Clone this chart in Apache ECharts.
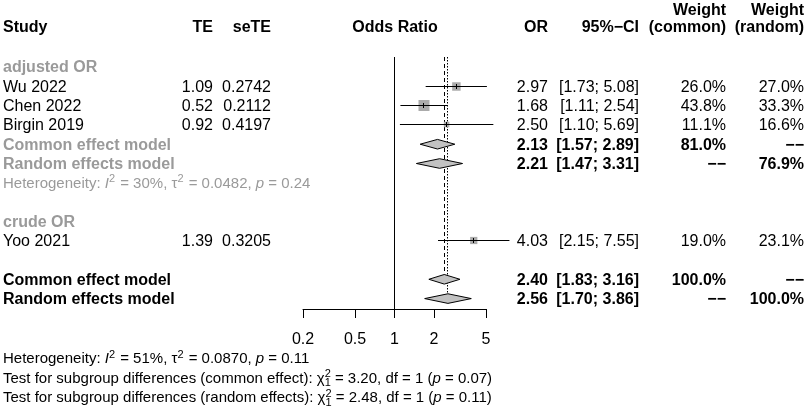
<!DOCTYPE html>
<html><head><meta charset="utf-8">
<script src="https://cdn.jsdelivr.net/npm/echarts@6/dist/echarts.min.js"></script>
<style>html,body{margin:0;padding:0;background:#fff}#c{width:810px;height:410px}</style>
</head><body><div id="c"></div>
<script>
// ---------- data ----------
const groupLabels = ['adjusted OR', 'crude OR'];
const groupRows = [0, 8];

const studies = ['Wu 2022', 'Chen 2022', 'Birgin 2019', 'Yoo 2021'];
const studyRows = [1, 2, 3, 9];
const teText = ['1.09', '0.52', '0.92', '1.39'];
const seTEText = ['0.2742', '0.2112', '0.4197', '0.3205'];
const orVals = [2.97, 1.68, 2.50, 4.03];
const ciLower = [1.73, 1.11, 1.10, 2.15];
const ciUpper = [5.08, 2.54, 5.69, 7.55];
const weightCommon = [26.0, 43.8, 11.1, 19.0];
const weightRandom = [27.0, 33.3, 16.6, 23.1];

const pooledLabels = ['Common effect model', 'Random effects model', 'Common effect model', 'Random effects model'];
const pooledRows = [4, 5, 11, 12];
const pooledOR = [2.13, 2.21, 2.40, 2.56];
const pooledLower = [1.57, 1.47, 1.83, 1.70];
const pooledUpper = [2.89, 3.31, 3.16, 3.86];
const pooledWCommon = ['81.0%', '\u2212\u2212', '100.0%', '\u2212\u2212'];
const pooledWRandom = ['\u2212\u2212', '76.9%', '\u2212\u2212', '100.0%'];
const pooledInGroup = [true, true, false, false];

const tickValues = [0.2, 0.5, 1, 2, 5];
const tickLabels = ['0.2', '0.5', '1', '2', '5'];

const hetGroup = { row: 6, i2: '30%', tau2: '0.0482', p: '0.24' };
const hetOverall = { i2: '51%', tau2: '0.0870', p: '0.11' };
const subgroupTests = [
  { label: 'common effect', chi2: '3.20', df: '1', p: '0.07' },
  { label: 'random effects', chi2: '2.48', df: '1', p: '0.11' }
];

// ---------- layout / style ----------
const FONT = '"Liberation Sans", Arial, Helvetica, sans-serif';
const GRAY = '#9a9a9a';
const FS = 16;
const FS_HET = 15;
const FS_TEST = 15;
const COL = { study: 3, te: 213, se: 271, or: 548, ci: 639, wc: 726, wr: 804 };
const Y_MIN = -0.52, Y_MAX = 12.54;
const TY = 1; // visual baseline nudge for text

function snap(v) { return Math.round(v - 0.5) + 0.5; }

function txt(x, y, text, align, opts) {
  opts = opts || {};
  return {
    type: 'text', x: x, y: y + TY, silent: true,
    style: {
      text: text, align: align || 'left', verticalAlign: 'middle',
      fontFamily: FONT, fontSize: opts.size || FS,
      fontWeight: opts.bold ? 'bold' : 'normal',
      fill: opts.color || '#000'
    }
  };
}

function richTok(size, color, extra) {
  return Object.assign({ fontFamily: FONT, fontSize: size, fill: color, color: color }, extra || {});
}
function richText(x, y, text, color, size) {
  return {
    type: 'text', x: x, y: y + TY, silent: true,
    style: {
      text: text, align: 'left', verticalAlign: 'middle',
      fontFamily: FONT, fontSize: size, fill: color, lineHeight: 20,
      rich: {
        n: richTok(size, color, { lineHeight: 20 }),
        i: richTok(size, color, { lineHeight: 20, fontStyle: 'italic' }),
        sup: richTok(11, color, { lineHeight: 9, verticalAlign: 'top', padding: [0, 1, 0, 0] }),
        supz: richTok(11, color, { lineHeight: 9, verticalAlign: 'top', width: 0 }),
        sub: richTok(11, color, { lineHeight: 9, verticalAlign: 'bottom' })
      }
    }
  };
}
function hetString(h) {
  return '{n|Heterogeneity: }{i|I}{sup|2}{n| = ' + h.i2 + ', τ}{sup|2}{n| = ' + h.tau2 + ', }{i|p}{n| = ' + h.p + '}';
}

// ---------- series ----------
const refLines = [
  { v: 1, dash: 'solid', toRow: Y_MAX, off: 0 },
  { v: pooledOR[2], dash: [4, 3], toRow: pooledRows[2], off: -4.8 },
  { v: pooledOR[3], dash: [1.5, 1.5], toRow: pooledRows[3], off: -5 }
];

const option = {
  animation: false,
  grid: { left: 303, top: 57, width: 183, height: 252, containLabel: false, outerBoundsMode: 'none' },
  xAxis: {
    type: 'log', logBase: 10, min: 0.2, max: 5, position: 'bottom',
    axisLine: { show: true, onZero: false, lineStyle: { color: '#000', width: 1 } },
    axisTick: { show: true, length: 9, inside: false, customValues: tickValues, lineStyle: { color: '#000', width: 1 } },
    axisLabel: {
      show: true, margin: 23, customValues: tickValues,
      formatter: function (v) { const k = tickValues.findIndex(t => Math.abs(t - v) < 1e-9); return k >= 0 ? tickLabels[k] : ''; },
      fontFamily: FONT, fontSize: FS, color: '#000'
    },
    splitLine: { show: false }, minorTick: { show: false }
  },
  yAxis: { type: 'value', min: Y_MIN, max: Y_MAX, inverse: true, show: false, splitLine: { show: false } },
  graphic: [],
  series: [
    {
      type: 'custom', silent: true, clip: false, z: 1,
      data: refLines.map(r => [r.v, Y_MIN]),
      renderItem: function (params, api) {
        const r = refLines[params.dataIndex];
        const a = api.coord([r.v, Y_MIN]);
        const b = api.coord([r.v, r.toRow]);
        const x = snap(a[0]);
        return {
          type: 'line', shape: { x1: x, y1: a[1], x2: x, y2: b[1] + r.off },
          style: { stroke: '#000', lineWidth: 1, lineDash: r.dash }
        };
      }
    },
    {
      type: 'custom', silent: true, clip: false, z: 3,
      data: studies.map((s, i) => [orVals[i], studyRows[i]]),
      renderItem: function (params, api) {
        const i = params.dataIndex;
        const row = studyRows[i];
        const p = api.coord([orVals[i], row]);
        const l = api.coord([ciLower[i], row]);
        const u = api.coord([ciUpper[i], row]);
        const s = 1.66 * Math.sqrt(weightCommon[i]);
        const y = p[1];
        const ly = snap(y);
        return {
          type: 'group', children: [
            { type: 'rect', shape: { x: p[0] - s / 2, y: ly - s / 2, width: s, height: s }, style: { fill: '#ababab' } },
            { type: 'line', shape: { x1: l[0], y1: ly, x2: u[0], y2: ly }, style: { stroke: '#000', lineWidth: 1 } },
            { type: 'line', shape: { x1: snap(p[0]), y1: ly - 2.5, x2: snap(p[0]), y2: ly + 2.5 }, style: { stroke: '#000', lineWidth: 1 } },
            txt(COL.study, y, studies[i], 'left'),
            txt(COL.te, y, teText[i], 'right'),
            txt(COL.se, y, seTEText[i], 'right'),
            txt(COL.or, y, orVals[i].toFixed(2), 'right'),
            txt(COL.ci, y, '[' + ciLower[i].toFixed(2) + '; ' + ciUpper[i].toFixed(2) + ']', 'right'),
            txt(COL.wc, y, weightCommon[i].toFixed(1) + '%', 'right'),
            txt(COL.wr, y, weightRandom[i].toFixed(1) + '%', 'right')
          ]
        };
      }
    },
    {
      type: 'custom', silent: true, clip: false, z: 4,
      data: pooledLabels.map((s, i) => [pooledOR[i], pooledRows[i]]),
      renderItem: function (params, api) {
        const i = params.dataIndex;
        const row = pooledRows[i];
        const p = api.coord([pooledOR[i], row]);
        const l = api.coord([pooledLower[i], row]);
        const u = api.coord([pooledUpper[i], row]);
        const y = p[1], h = 4.8;
        return {
          type: 'group', children: [
            { type: 'polygon', shape: { points: [[l[0], y], [p[0], y - h], [u[0], y], [p[0], y + h]] },
              style: { fill: '#c2c2c2', stroke: '#000', lineWidth: 1 } },
            txt(COL.study, y, pooledLabels[i], 'left', { bold: true, color: pooledInGroup[i] ? GRAY : '#000' }),
            txt(COL.or, y, pooledOR[i].toFixed(2), 'right', { bold: true }),
            txt(COL.ci, y, '[' + pooledLower[i].toFixed(2) + '; ' + pooledUpper[i].toFixed(2) + ']', 'right', { bold: true }),
            txt(COL.wc, y, pooledWCommon[i], 'right', { bold: true }),
            txt(COL.wr, y, pooledWRandom[i], 'right', { bold: true })
          ]
        };
      }
    },
    {
      type: 'custom', silent: true, clip: false, z: 2,
      data: groupLabels.map((g, i) => [1, groupRows[i]]).concat([[1, hetGroup.row]]),
      renderItem: function (params, api) {
        const i = params.dataIndex;
        if (i < groupLabels.length) {
          const y = api.coord([1, groupRows[i]])[1];
          return txt(COL.study, y, groupLabels[i], 'left', { bold: true, color: GRAY });
        }
        const y = api.coord([1, hetGroup.row])[1];
        return richText(COL.study, y, hetString(hetGroup), GRAY, FS_HET);
      }
    }
  ]
};

// headers and footnotes (outside the plotting rows)
const hdr = [
  txt(COL.study, 27, 'Study', 'left', { bold: true }),
  txt(COL.te, 27, 'TE', 'right', { bold: true }),
  txt(COL.se, 27, 'seTE', 'right', { bold: true }),
  txt(395, 27, 'Odds Ratio', 'center', { bold: true }),
  txt(COL.or, 27, 'OR', 'right', { bold: true }),
  txt(COL.ci, 27, '95%\u2212CI', 'right', { bold: true }),
  txt(COL.wc, 10, 'Weight', 'right', { bold: true }),
  txt(COL.wc, 27, '(common)', 'right', { bold: true }),
  txt(COL.wr, 10, 'Weight', 'right', { bold: true }),
  txt(COL.wr, 27, '(random)', 'right', { bold: true })
];
const notes = [richText(COL.study, 358, hetString(hetOverall), '#000', FS_HET)];
subgroupTests.forEach((t, k) => {
  notes.push(richText(COL.study, 377.5 + k * 19.5,
    '{n|Test for subgroup differences (' + t.label + '): χ}{supz|2}{sub|1}{n| = ' + t.chi2 + ', df = ' + t.df + ' (}{i|p}{n| = ' + t.p + ')}',
    '#000', FS_TEST));
});
option.graphic = hdr.concat(notes);

const chart = echarts.init(document.getElementById('c'), null, { renderer: 'canvas' });
chart.setOption(option);
</script>
</body></html>
